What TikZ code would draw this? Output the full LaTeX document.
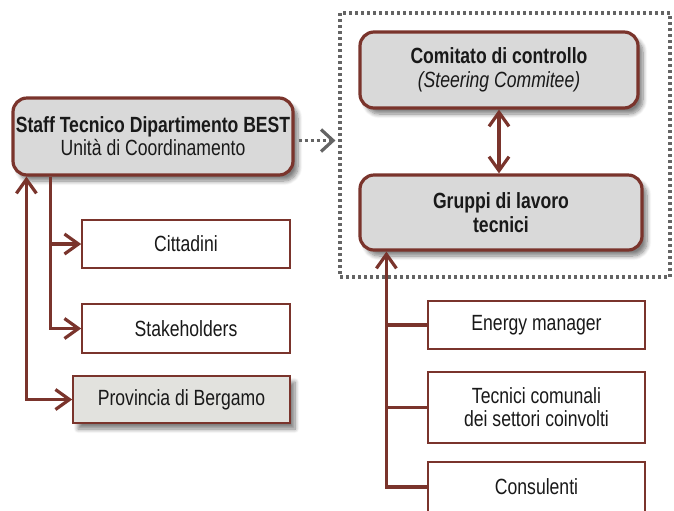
\documentclass[tikz,border=0pt]{standalone}
\usepackage{fontspec}
\setmainfont{Liberation Sans}[FakeStretch=0.8]
\usetikzlibrary{arrows.meta,shadows.blur}
\definecolor{linebrown}{RGB}{122,52,44}
\definecolor{boxgray}{RGB}{217,217,217}
\definecolor{provgray}{RGB}{226,226,222}
\definecolor{dotgray}{RGB}{100,100,100}
\tikzset{
  boxshadow/.style={blur shadow={shadow xshift=2.5pt, shadow yshift=-3pt,
    shadow blur steps=8, shadow opacity=50}},
  mainbox/.style={draw=linebrown, line width=1.6pt, fill=boxgray, rounded corners=7pt,
    boxshadow, align=center, inner sep=0pt, text=black!90,
    font=\fontsize{11}{12}\selectfont},
  subbox/.style={draw=linebrown, line width=0.8pt, fill=white, align=center, inner sep=0pt,
    minimum width=108.5pt, text=black!90, font=\fontsize{11}{11.5}\selectfont},
  link/.style={draw=linebrown, line width=1.6pt},
  bigtip/.tip={Straight Barb[length=7pt, width=10pt]},
  dotlink/.style={draw=dotgray, line width=1.6pt, dash pattern=on 1.5pt off 1.5pt,
    -{Straight Barb[length=6pt, width=11pt, line width=1.6pt]}}
}
\begin{document}
\begin{tikzpicture}[x=0.5pt, y=-0.5pt, line join=miter]
  \useasboundingbox (0,0) rectangle (674,510);

  % Riquadro tratteggiato
  \node[draw=dotgray, line width=1.6pt, dash pattern=on 1.5pt off 1.5pt,
    minimum width=165pt, minimum height=132pt] (frame) at (505,145) {};

  % Nodi principali
  \node[mainbox, minimum width=140pt, minimum height=38.5pt,
    font=\fontsize{11}{9.5}\selectfont] (staff) at (153,136.5)
    {\textbf{Staff Tecnico Dipartimento BEST}\\Unità di Coordinamento};
  \node[mainbox, minimum width=139pt, minimum height=38pt] (com) at (499,70)
    {\textbf{Comitato di controllo}\\\textit{(Steering Commitee)}};
  \node[mainbox, minimum width=141pt, minimum height=37.5pt] (grp) at (501,212.5)
    {\textbf{Gruppi di lavoro}\\\textbf{tecnici}};

  % Nodi a sinistra
  \node[subbox, minimum width=104pt, minimum height=24pt] (citt) at (186,244) {Cittadini};
  \node[subbox, minimum width=104pt, minimum height=24.5pt] (stake) at (186,328.5) {Stakeholders};
  \node[subbox, fill=provgray, minimum height=23.5pt, boxshadow] (prov) at (181.5,399.5)
    {Provincia di Bergamo};

  % Nodi a destra
  \node[subbox, minimum height=24pt] (energy) at (536.5,325) {Energy manager};
  \node[subbox, minimum height=35.5pt] (tec) at (536.5,407.5)
    {Tecnici comunali\\dei settori coinvolti};
  \node[subbox, minimum height=25pt] (cons) at (536.5,487) {Consulenti};

  % Collegamenti a sinistra
  \draw[link, {bigtip}-{bigtip}] ([xshift=7.5pt]staff.south west) |- (prov.west);
  \draw[link, -{bigtip}] ([xshift=19.5pt]staff.south west) |- (stake.west);
  \draw[link, -{bigtip}] ([xshift=19.5pt]staff.south west |- citt.west) -- (citt.west);

  % Collegamenti a destra
  \draw[link, {bigtip}-{bigtip}] (com.south) -- (com.south |- grp.north);
  \draw[link, {bigtip}-] ([xshift=14pt]grp.south west) |- (cons.west);
  \draw[link] ([xshift=14pt]grp.south west |- energy.west) -- (energy.west);
  \draw[link] ([xshift=14pt]grp.south west |- tec.west) -- (tec.west);

  % Freccia punteggiata
  \draw[dotlink] ([xshift=2pt, yshift=-2pt]staff.east) -- ([xshift=-1.5pt, yshift=-2pt]staff.east -| frame.west);
\end{tikzpicture}
\end{document}
